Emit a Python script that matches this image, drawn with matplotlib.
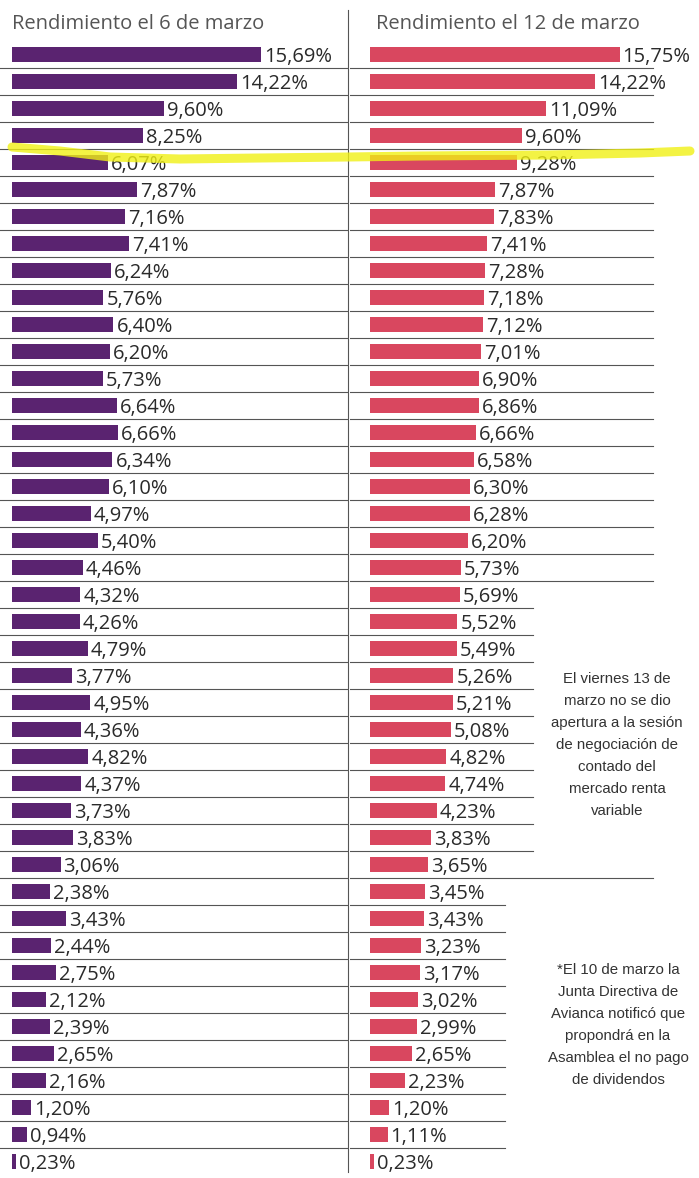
import matplotlib.pyplot as plt
from matplotlib.lines import Line2D

plt.rcParams['font.family'] = ['Open Sans', 'DejaVu Sans']

# rendimiento por accion, en el orden del grafico
rend_6 = [15.69, 14.22, 9.60, 8.25, 6.07, 7.87, 7.16, 7.41, 6.24, 5.76,
          6.40, 6.20, 5.73, 6.64, 6.66, 6.34, 6.10, 4.97, 5.40, 4.46,
          4.32, 4.26, 4.79, 3.77, 4.95, 4.36, 4.82, 4.37, 3.73, 3.83,
          3.06, 2.38, 3.43, 2.44, 2.75, 2.12, 2.39, 2.65, 2.16, 1.20,
          0.94, 0.23]
rend_12 = [15.75, 14.22, 11.09, 9.60, 9.28, 7.87, 7.83, 7.41, 7.28, 7.18,
           7.12, 7.01, 6.90, 6.86, 6.66, 6.58, 6.30, 6.28, 6.20, 5.73,
           5.69, 5.52, 5.49, 5.26, 5.21, 5.08, 4.82, 4.74, 4.23, 3.83,
           3.65, 3.45, 3.43, 3.23, 3.17, 3.02, 2.99, 2.65, 2.23, 1.20,
           1.11, 0.23]

titulo_6 = 'Rendimiento el 6 de marzo'
titulo_12 = 'Rendimiento el 12 de marzo'
nota_13 = ('El viernes 13 de\nmarzo no se dio\napertura a la sesión\n'
           'de negociación de\ncontado del\nmercado renta\nvariable')
nota_avianca = ('*El 10 de marzo la\nJunta Directiva de\nAvianca notificó que\n'
                'propondrá en la\nAsamblea el no pago\nde dividendos')

W, H = 699, 1178
PX = 15.85  # pixeles por punto porcentual
fig = plt.figure(figsize=(W / 100, H / 100), dpi=100)


def caja(x0, x1, y0, y1):
    return [x0 / W, 1 - y1 / H, (x1 - x0) / W, (y1 - y0) / H]


def panel(rect, vals, color, x_ini, largo_sep):
    ax = fig.add_axes(rect)
    ancho = rect[2] * W
    ax.set_xlim(-x_ini / PX, (ancho - x_ini) / PX)
    ax.set_ylim(len(vals) - 0.5, -0.5)
    ax.axis('off')
    filas = range(len(vals))
    ax.barh(filas, vals, height=0.56, color=color, zorder=2)
    for i, v in enumerate(vals):
        ax.text(v + 3 / PX, i + 0.1, ('%.2f%%' % v).replace('.', ','),
                va='center', ha='left', fontsize=14.5, color='#2a2a2a')
    for i in range(len(vals) - 1):
        ax.axhline(i + 0.5, xmin=0, xmax=largo_sep(i), color='#555555',
                   lw=0.8, zorder=1)
    return ax


def sep_der(i):
    if i <= 19 or i == 30:
        return (653 - 350) / 349
    if i <= 29:
        return (533 - 350) / 349
    return (505 - 350) / 349


panel(caja(0, 348, 41, 1175), rend_6, '#5a2370', 12, lambda i: 1.0)
panel(caja(350, 699, 41, 1175), rend_12, '#d9475f', 20, sep_der)

fig.text(12 / W, 1 - 24 / H, titulo_6, va='center', ha='left',
         fontsize=14.5, color='#555555')
fig.text(376 / W, 1 - 24 / H, titulo_12, va='center', ha='left',
         fontsize=14.5, color='#555555')

nota_font = ['Liberation Sans', 'DejaVu Sans']
fig.text(617 / W, 1 - 745 / H, nota_13, ha='center', va='center',
         fontsize=10.8, color='#333333', family=nota_font, linespacing=1.72)
fig.text(618 / W, 1 - 1025 / H, nota_avianca, ha='center', va='center',
         fontsize=10.8, color='#333333', family=nota_font, linespacing=1.72)

# linea divisoria entre paneles
fig.add_artist(Line2D([348 / W, 348 / W], [1 - 10 / H, 1 - 1172 / H],
                      color='#555555', lw=0.8))

# trazo de resaltador amarillo sobre la fila de Avianca
hx = [12, 60, 110, 180, 260, 348, 420, 550, 640, 690]
hy = [147, 151, 157, 159, 158, 157, 156, 155, 153, 151]
fig.add_artist(Line2D([x / W for x in hx], [1 - y / H for y in hy],
                      color='#f0f015', lw=6.5, alpha=0.8,
                      solid_capstyle='round', zorder=5))

fig.savefig('out.png', dpi=100)
